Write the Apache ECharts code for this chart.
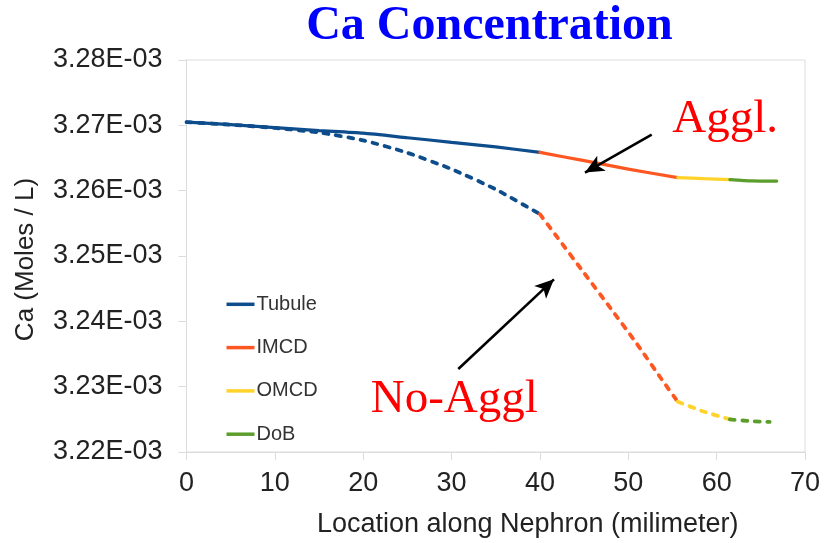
<!DOCTYPE html>
<html>
<head>
<meta charset="utf-8">
<script src="https://cdn.jsdelivr.net/npm/echarts@6/dist/echarts.min.js"></script>
<style>
  html, body { margin: 0; padding: 0; background: #ffffff; }
  #chart { width: 825px; height: 543px; }
</style>
</head>
<body>
<div id="chart"></div>
<script>
// Ca concentration (mol/L) along the nephron (mm), split by segment.
// Solid lines: with agglomeration. Dashed lines: without agglomeration.
const segmentNames = ['Tubule', 'IMCD', 'OMCD', 'DoB'];
const segmentColors = ['#0e4d8c', '#ff5722', '#ffd32a', '#5b9e2c'];

// With agglomeration
const agglTubuleX = [0, 5, 10, 15, 20, 25, 30, 35, 40];
const agglTubuleY = [3.2705e-3, 3.2701e-3, 3.26965e-3, 3.2692e-3, 3.2688e-3, 3.2681e-3, 3.2674e-3, 3.2667e-3, 3.26585e-3];
const agglImcdX = [40, 45, 50, 55.6];
const agglImcdY = [3.26585e-3, 3.2646e-3, 3.2633e-3, 3.2620e-3];
const agglOmcdX = [55.6, 58.5, 61.5];
const agglOmcdY = [3.2620e-3, 3.26185e-3, 3.2617e-3];
const agglDobX = [61.5, 64, 66.8];
const agglDobY = [3.2617e-3, 3.2615e-3, 3.26147e-3];

// Without agglomeration
const noAgglTubuleX = [0, 5, 10, 15, 20, 25, 30, 35, 40];
const noAgglTubuleY = [3.2705e-3, 3.2701e-3, 3.2696e-3, 3.2689e-3, 3.2677e-3, 3.2658e-3, 3.2633e-3, 3.2602e-3, 3.2564e-3];
const noAgglImcdX = [40, 42, 45, 48, 51, 54, 55.6];
const noAgglImcdY = [3.2564e-3, 3.2528e-3, 3.2474e-3, 3.2420e-3, 3.2365e-3, 3.2307e-3, 3.2277e-3];
const noAgglOmcdX = [55.6, 58.5, 61.5];
const noAgglOmcdY = [3.2277e-3, 3.2262e-3, 3.2250e-3];
const noAgglDobX = [61.5, 64, 66];
const noAgglDobY = [3.2250e-3, 3.2247e-3, 3.2246e-3];

// Axis ranges
const xMin = 0, xMax = 70, xStep = 10;
const yMin = 3.22e-3, yMax = 3.28e-3, yStep = 0.01e-3;

// Annotation arrows, in data coordinates [x, y]
const agglArrow = [[52.65, 3.26859e-3], [45.1, 3.26277e-3]];
const noAgglArrow = [[30.76, 3.2327e-3], [41.59, 3.24643e-3]];

const agglSets = [
  [agglTubuleX, agglTubuleY], [agglImcdX, agglImcdY], [agglOmcdX, agglOmcdY], [agglDobX, agglDobY]
];
const noAgglSets = [
  [noAgglTubuleX, noAgglTubuleY], [noAgglImcdX, noAgglImcdY], [noAgglOmcdX, noAgglOmcdY], [noAgglDobX, noAgglDobY]
];

const sansFont = "'Liberation Sans', Arial, sans-serif";
const serifFont = "'Liberation Serif', 'Times New Roman', serif";

function lineSeries(name, xs, ys, color, dashed) {
  return {
    type: 'line',
    name: name,
    data: xs.map((x, i) => [x, ys[i]]),
    symbol: 'none',
    smooth: 0.2,
    silent: true,
    itemStyle: { color: color },
    lineStyle: dashed
      ? { color: color, width: 3.8, type: [5, 7.5], cap: 'round' }
      : { color: color, width: 3.2, type: 'solid', cap: 'round' },
    emphasis: { disabled: true },
    z: dashed ? 2 : 3
  };
}

const series = [];
agglSets.forEach((s, i) => series.push(lineSeries(segmentNames[i], s[0], s[1], segmentColors[i], false)));
noAgglSets.forEach((s, i) => series.push(lineSeries(segmentNames[i], s[0], s[1], segmentColors[i], true)));

// Arrows pointing at the two curves
series.push({
  type: 'line',
  name: 'arrows',
  data: [],
  silent: true,
  markLine: {
    silent: true,
    animation: false,
    symbol: ['none', 'arrow'],
    symbolSize: [13, 19],
    label: { show: false },
    emphasis: { disabled: true },
    lineStyle: { color: '#000000', width: 2.6, type: 'solid' },
    data: [
      [{ coord: agglArrow[0] }, { coord: agglArrow[1] }],
      [{ coord: noAgglArrow[0] }, { coord: noAgglArrow[1] }]
    ]
  }
});

const chart = echarts.init(document.getElementById('chart'), null, { renderer: 'canvas' });
chart.setOption({
  animation: false,
  backgroundColor: '#ffffff',
  grid: {
    left: 186.5, right: 20, top: 60, bottom: 88.5,
    show: true, borderColor: '#dcdcdc', borderWidth: 1, backgroundColor: 'transparent'
  },
  legend: {
    data: segmentNames,
    orient: 'vertical',
    left: 226.5,
    top: 294.3,
    padding: 0,
    itemGap: 23.3,
    itemWidth: 28,
    itemHeight: 3.5,
    icon: 'rect',
    selectedMode: false,
    textStyle: { color: '#333333', fontSize: 20, fontFamily: sansFont, lineHeight: 20, padding: [0, 0, 0, -3] }
  },
  xAxis: {
    type: 'value',
    min: xMin, max: xMax, interval: xStep,
    name: 'Location along Nephron (milimeter)',
    nameLocation: 'middle',
    nameGap: 59,
    nameTextStyle: { color: '#222222', fontSize: 27, fontFamily: sansFont, padding: [0, 0, 0, 64] },
    axisLine: { show: true, lineStyle: { color: '#dcdcdc', width: 1 } },
    axisTick: { show: true, length: 8, lineStyle: { color: '#dcdcdc' } },
    splitLine: { show: false },
    axisLabel: { color: '#222222', fontSize: 27, fontFamily: sansFont, margin: 18 }
  },
  yAxis: {
    type: 'value',
    min: yMin, max: yMax, interval: yStep,
    name: 'Ca (Moles / L)',
    nameLocation: 'middle',
    nameGap: 148,
    nameTextStyle: { color: '#222222', fontSize: 26, fontFamily: sansFont, padding: [0, 7, 0, 0] },
    axisLine: { show: true, lineStyle: { color: '#dcdcdc', width: 1 } },
    axisTick: { show: true, length: 8, lineStyle: { color: '#dcdcdc' } },
    splitLine: { show: false },
    axisLabel: {
      color: '#222222', fontSize: 27, fontFamily: sansFont, margin: 24, padding: [3, 0, 0, 0],
      formatter: v => (v * 1000).toFixed(2) + 'E-03'
    }
  },
  graphic: [
    {
      type: 'text', x: 489.5, y: 27, silent: true,
      style: { text: 'Ca Concentration', fill: '#0000ff', fontSize: 48, fontWeight: 'bold',
               fontFamily: serifFont, align: 'center', verticalAlign: 'middle' }
    },
    {
      type: 'text', x: 672.3, y: 119.5, silent: true,
      style: { text: 'Aggl.', fill: '#ff0000', fontSize: 47, fontFamily: serifFont,
               align: 'left', verticalAlign: 'middle' }
    },
    {
      type: 'text', x: 370.7, y: 400, silent: true,
      style: { text: 'No-Aggl', fill: '#ff0000', fontSize: 47, fontFamily: serifFont,
               align: 'left', verticalAlign: 'middle' }
    }
  ],
  series: series
});
</script>
</body>
</html>
